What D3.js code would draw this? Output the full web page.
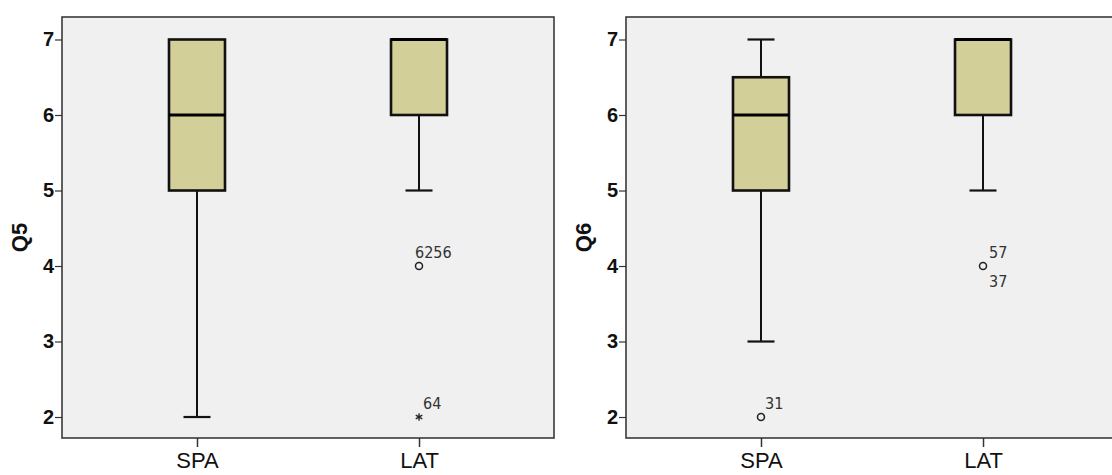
<!DOCTYPE html>
<html><head><meta charset="utf-8">
<script src="https://cdn.jsdelivr.net/npm/d3@7"></script>
<style>
html,body{margin:0;padding:0;background:#fff;}
svg{display:block;}
</style></head>
<body>
<svg id="chart" width="1112" height="475"></svg>
<script>
// ---- data ----
const categories = ["SPA", "LAT"];
const yTicks = [2, 3, 4, 5, 6, 7];
const panelTitles = ["Q5", "Q6"];
// five-number summaries [lowWhisker, q1, median, q3, highWhisker] per category
const q5Stats = [[2, 5, 6, 7, 7], [5, 6, 7, 7, 7]];
const q6Stats = [[3, 5, 6, 6.5, 7], [5, 6, 7, 7, 7]];
// outliers: [categoryIndex, value, type, labels]
const q5Outliers = [[1, 4, "o", ["62", "56"]], [1, 2, "*", ["64"]]];
const q6Outliers = [[0, 2, "o", ["31"]], [1, 4, "o", ["57", "37"]]];

(function () {
const svg = d3.select("#chart");

const panels = [
  {title: panelTitles[0], stats: q5Stats, outliers: q5Outliers, x0: 62, stack: false},
  {title: panelTitles[1], stats: q6Stats, outliers: q6Outliers, x0: 626, stack: true}
];
const plotTop = 17, plotBottom = 438, plotW = 492;

const y = d3.scaleLinear().domain([1.722, 7.298]).range([plotBottom, plotTop]);

panels.forEach(p => {
  const g = svg.append("g");
  const x = d3.scalePoint().domain(categories).range([p.x0, p.x0 + plotW]).padding(0.608);

  g.append("rect").attr("x", p.x0).attr("y", plotTop).attr("width", plotW).attr("height", plotBottom - plotTop)
    .attr("fill", "#f0f0f0").attr("stroke", "#3a3a3a").attr("stroke-width", 1.6);

  // y axis
  const ya = g.append("g").attr("transform", `translate(${p.x0},0)`)
    .call(d3.axisLeft(y).tickValues(yTicks).tickSize(7).tickPadding(1).tickFormat(d3.format("d")));
  ya.select(".domain").remove();
  ya.selectAll(".tick line").attr("stroke", "#333").attr("stroke-width", 1.2);
  ya.selectAll(".tick text").attr("font-family", "Arial, 'Liberation Sans', sans-serif")
    .attr("font-weight", "bold").attr("font-size", 20).attr("fill", "#111");

  // x axis
  const xa = g.append("g").attr("transform", `translate(0,${plotBottom})`)
    .call(d3.axisBottom(x).tickSize(9).tickPadding(5));
  xa.select(".domain").remove();
  xa.selectAll(".tick line").attr("stroke", "#333").attr("stroke-width", 1.5);
  xa.selectAll(".tick text").attr("font-family", "Arial, 'Liberation Sans', sans-serif")
    .attr("font-size", 22).attr("fill", "#111");

  // y title
  g.append("text").attr("transform", `translate(${p.x0 - 35},${(plotTop + plotBottom) / 2 + 10}) rotate(-90)`)
    .attr("text-anchor", "middle").attr("font-family", "Arial, 'Liberation Sans', sans-serif")
    .attr("font-weight", "bold").attr("font-size", 22).attr("fill", "#111").text(p.title);

  const boxW = 56, capW = 27;
  p.stats.forEach((s, i) => {
    const cx = x(categories[i]);
    const [lo, q1, med, q3, hi] = s;
    g.append("line").attr("x1", cx).attr("x2", cx).attr("y1", y(lo)).attr("y2", y(q1))
      .attr("stroke", "#111").attr("stroke-width", 2);
    g.append("line").attr("x1", cx).attr("x2", cx).attr("y1", y(hi)).attr("y2", y(q3))
      .attr("stroke", "#111").attr("stroke-width", 2);
    if (lo < q1) g.append("line").attr("x1", cx - capW / 2).attr("x2", cx + capW / 2).attr("y1", y(lo)).attr("y2", y(lo))
      .attr("stroke", "#111").attr("stroke-width", 2.2);
    if (hi > q3) g.append("line").attr("x1", cx - capW / 2).attr("x2", cx + capW / 2).attr("y1", y(hi)).attr("y2", y(hi))
      .attr("stroke", "#111").attr("stroke-width", 2.2);
    g.append("rect").attr("x", cx - boxW / 2).attr("y", y(q3)).attr("width", boxW).attr("height", y(q1) - y(q3))
      .attr("fill", "#d3cf98").attr("stroke", "#111").attr("stroke-width", 2.6);
    g.append("line").attr("x1", cx - boxW / 2).attr("x2", cx + boxW / 2).attr("y1", y(med)).attr("y2", y(med))
      .attr("stroke", "#000").attr("stroke-width", 3.2);
  });

  p.outliers.forEach(o => {
    const [ci, v, type, labels] = o;
    const cx = x(categories[ci]), cy = y(v);
    if (type === "o") {
      g.append("circle").attr("cx", cx).attr("cy", cy).attr("r", 3.5)
        .attr("fill", "none").attr("stroke", "#222").attr("stroke-width", 1.5);
    } else {
      g.append("path").attr("transform", `translate(${cx},${cy})`)
        .attr("d", d3.symbol(d3.symbolAsterisk, 40)())
        .attr("fill", "none").attr("stroke", "#222").attr("stroke-width", 1.3);
    }
    const setF = t => t.attr("font-family", "'Liberation Sans Narrow', 'Arial Narrow', 'DejaVu Sans Condensed', sans-serif")
      .attr("font-size", 16).attr("fill", "#333");
    if (labels.length === 1) {
      setF(g.append("text").attr("x", cx + 4).attr("y", cy - 8).text(labels[0]));
    } else if (!p.stack) {
      setF(g.append("text").attr("x", cx - 4).attr("y", cy - 8).text(labels.join("")));
    } else {
      setF(g.append("text").attr("x", cx + 6).attr("y", cy - 8).text(labels[0]));
      setF(g.append("text").attr("x", cx + 6).attr("y", cy + 21).text(labels[1]));
    }
  });
});
})();
</script>
</body></html>
